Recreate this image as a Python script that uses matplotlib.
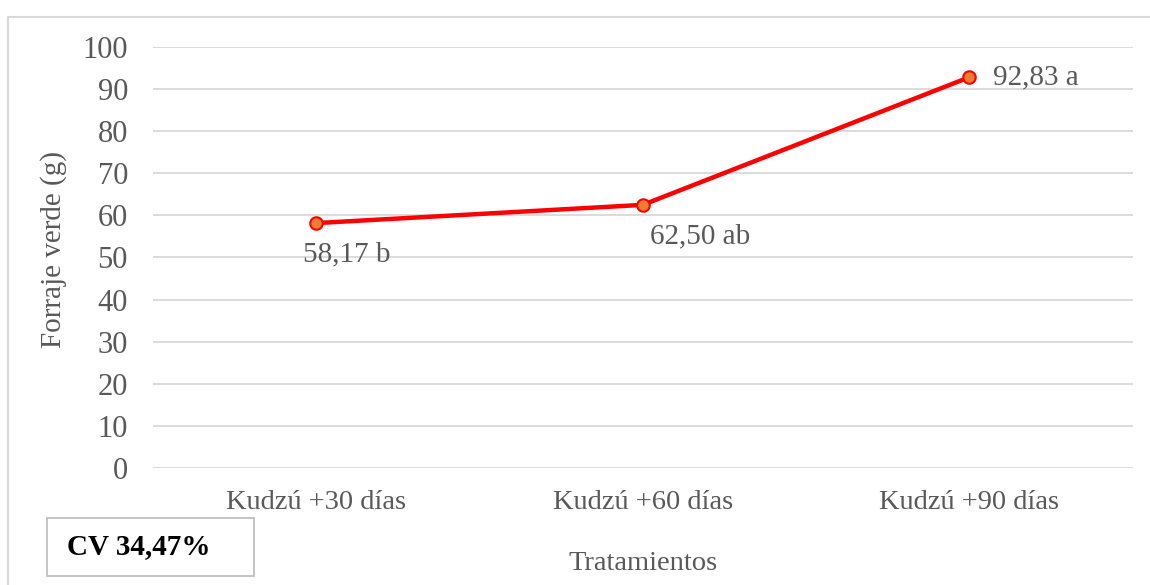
import matplotlib.pyplot as plt
from matplotlib.lines import Line2D
from matplotlib.patches import Rectangle

plt.rcParams['font.family'] = ['Liberation Serif', 'DejaVu Serif']

tratamientos = ['Kudzú +30 días', 'Kudzú +60 días', 'Kudzú +90 días']
forraje = [58.17, 62.50, 92.83]
etiquetas = ['58,17 b', '62,50 ab', '92,83 a']
yticks = [0, 10, 20, 30, 40, 50, 60, 70, 80, 90, 100]

gris = '#595959'

fig = plt.figure(figsize=(11.5, 5.85), dpi=100)
ax = fig.add_axes([0.133, 0.2, 0.852, 0.7197])

x = list(range(len(tratamientos)))
ax.plot(x, forraje, color='#ff0000', linewidth=3.2, marker='o', markersize=9,
        markerfacecolor='#ed7d31', markeredgecolor='#ff0000', markeredgewidth=1.5,
        zorder=3)

# etiquetas de datos
ax.annotate(etiquetas[0], (x[0], forraje[0]), xytext=(22, -13), textcoords='offset points',
            ha='center', va='top', fontsize=21, color=gris)
ax.annotate(etiquetas[1], (x[1], forraje[1]), xytext=(41, -13), textcoords='offset points',
            ha='center', va='top', fontsize=21, color=gris)
ax.annotate(etiquetas[2], (x[2], forraje[2]), xytext=(17, 0), textcoords='offset points',
            ha='left', va='center', fontsize=21, color=gris)

ax.set_xlim(-0.5, 2.5)
ax.set_ylim(0, 100)
ax.set_yticks(yticks)
ax.set_xticks(x)
ax.set_xticklabels(tratamientos)
ax.grid(axis='y', color='#d9d9d9', linewidth=1.3)
ax.set_axisbelow(True)
for s in ax.spines.values():
    s.set_visible(False)
ax.tick_params(length=0, labelcolor=gris)
ax.tick_params(axis='y', pad=18, labelsize=22)
ax.tick_params(axis='x', pad=16, labelsize=20.5)

ax.set_ylabel('Forraje verde (g)', fontsize=21, color=gris, labelpad=11)
ax.yaxis.label.set_y(0.52)
ax.set_xlabel('Tratamientos', fontsize=20.5, color=gris, labelpad=26)

# borde del grafico
fig.add_artist(Line2D([0.007, 0.007, 1.0], [0.0, 0.971, 0.971],
                      transform=fig.transFigure, color='#d9d9d9', linewidth=1.5))

# cuadro CV
fig.add_artist(Rectangle((0.041, 0.0154), 0.18, 0.099, transform=fig.transFigure,
                         fill=False, edgecolor='#bfbfbf', linewidth=1.3))
fig.text(0.058, 0.065, 'CV 34,47%', fontsize=21, fontweight='bold', color='black',
         va='center', ha='left')

plt.savefig('out.png')
plt.close()
